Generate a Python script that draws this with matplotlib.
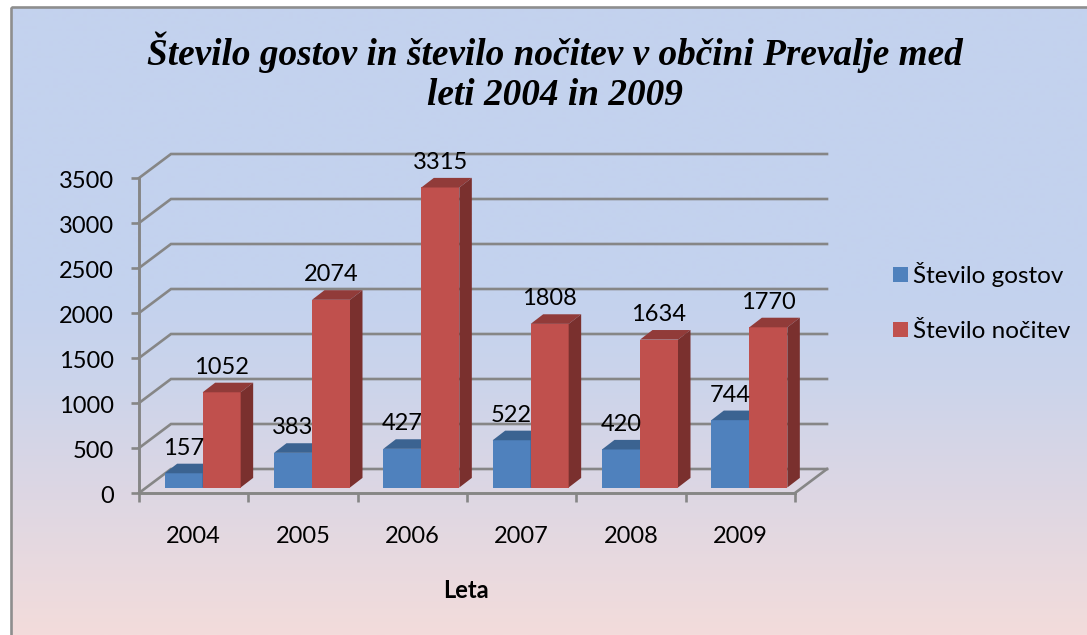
import matplotlib
matplotlib.use("Agg")
import matplotlib.pyplot as plt
import numpy as np
from matplotlib.patches import Patch, Rectangle
from matplotlib.collections import PolyCollection
from matplotlib.transforms import Affine2D

W, H = 1087, 635
years = ["2004", "2005", "2006", "2007", "2008", "2009"]
gostov = [157, 383, 427, 522, 420, 744]
nocitev = [1052, 2074, 3315, 1808, 1634, 1770]
yticks = [0, 500, 1000, 1500, 2000, 2500, 3000, 3500]
title = "Število gostov in število nočitev v občini Prevalje med\nleti 2004 in 2009"
names = ["Število gostov", "Število nočitev"]
xlabel = "Leta"

SANS = "Lato"
SERIF = "Liberation Serif"
GRID = "#868686"
LW = 1.9
NUM = 17

def rect(l, t, r, b):
    return [l / W, 1 - b / H, (r - l) / W, (b - t) / H]

fig = plt.figure(figsize=(W / 100, H / 100), dpi=100, facecolor="white")

# background panel with vertical gradient
bg = fig.add_axes([0, 0, 1, 1], zorder=0)
bg.set_xlim(0, W); bg.set_ylim(H, 0); bg.axis("off")
stops_y = np.array([8, 300, 380, 500, 635]) / 1.0
stops_c = np.array([[195, 210, 238], [196, 210, 238], [203, 212, 235], [222, 215, 227], [243, 220, 219]]) / 255
ys = np.arange(8, 636)
grad = np.stack([np.interp(ys, stops_y, stops_c[:, k]) for k in range(3)], axis=1)[:, None, :]
bg.imshow(grad, extent=(12, W, H, 8), aspect="auto", interpolation="bilinear", zorder=1)
bg.set_xlim(0, W); bg.set_ylim(H, 0)
bg.add_patch(Rectangle((11, 7), W + 20, H + 20, fill=False, ec="#8e8e8e", lw=1.9, zorder=2))

# axes frame
ax = fig.add_axes(rect(139, 178, 795, 493), zorder=1)
ax.patch.set_alpha(0)
ax.set_xlim(0, 6); ax.set_ylim(0, 3500)
sx = 656 / 6; sy = 315 / 3500
wall_dx = 32 / sx; wall_dy = 24 / sy
for v in yticks:
    ax.plot([0, wall_dx, 6 + wall_dx], [v, v + wall_dy, v + wall_dy], color=GRID, lw=LW, clip_on=False, zorder=1,
            solid_joinstyle="miter")
ax.plot([6, 6 + wall_dx], [0, wall_dy], color=GRID, lw=LW, clip_on=False, zorder=1)
for s in ["top", "right"]:
    ax.spines[s].set_visible(False)
for s in ["left", "bottom"]:
    ax.spines[s].set_color(GRID); ax.spines[s].set_linewidth(LW + .2); ax.spines[s].set_zorder(2)
ax.set_yticks(yticks)
ax.set_xticks(np.arange(0, 7))
ax.set_xticklabels([])
ax.set_xticks(np.arange(len(years)) + .5, minor=True)
ax.set_xticklabels(years, minor=True)
ax.tick_params(axis="x", which="major", length=6.5, width=LW, color=GRID)
ax.tick_params(axis="x", which="minor", length=0, pad=24, labelsize=NUM, labelfontfamily=SANS, labelcolor="black")
ax.tick_params(axis="y", which="major", length=6, width=LW, color=GRID, pad=12, labelsize=NUM, labelfontfamily=SANS)
for lab in ax.get_yticklabels():
    lab.set_transform(lab.get_transform() + Affine2D().translate(0, -1.2))
fig.text(466 / W, 1 - 590 / H, xlabel, ha="center", va="center", fontsize=17, fontweight="bold", family=SANS)

# bars, on an overlay placed at the mid depth of the floor
bx = fig.add_axes(rect(148, 487.5 - 3500 * .0905, 148 + 656, 487.5), zorder=2)
bx.patch.set_alpha(0); bx.axis("off")
bx.set_xlim(0, 6); bx.set_ylim(0, 3500)
bw = 38 / sx
ddx = 12.5 / sx; ddy = 9.6 / .0905
series = [(gostov, -1, "#4F81BD", "#3B6391", "#2F5078"), (nocitev, 0, "#C0504D", "#913B39", "#7A302E")]
x0 = np.arange(len(years)) + .5
for vals, off, cf, ct, cs in series:
    lefts = x0 + off * bw
    bx.bar(lefts, vals, width=bw, align="edge", color=cf, zorder=3 + off)
    tops = [[(l, v), (l + ddx, v + ddy), (l + bw + ddx, v + ddy), (l + bw, v)] for l, v in zip(lefts, vals)]
    sides = [[(l + bw, 0), (l + bw + ddx, ddy), (l + bw + ddx, v + ddy), (l + bw, v)] for l, v in zip(lefts, vals)]
    bx.add_collection(PolyCollection(tops, facecolors=ct, edgecolors="none", zorder=3 + off, clip_on=False))
    bx.add_collection(PolyCollection(sides, facecolors=cs, edgecolors="none", zorder=3 + off, clip_on=False))
    for l, v in zip(lefts, vals):
        bx.annotate(str(v), (l + bw / 2, v), xytext=(0, 25), textcoords="offset pixels", ha="center", va="center",
                    fontsize=NUM, family=SANS, color="black", zorder=10, annotation_clip=False)

# title
fig.text(555 / W, 1 - 72 / H, title, ha="center", va="center", fontsize=26.85, family=SERIF, fontweight="bold",
         fontstyle="italic", color="black", linespacing=1.2, zorder=5)

# legend
hs = [Patch(color="#4F81BD", lw=0), Patch(color="#C0504D", lw=0)]
fs = 17.5
leg = fig.legend(hs, names, loc="upper left", bbox_to_anchor=(893 / W, 1 - 262 / H), frameon=False,
                 prop={"family": SANS, "size": fs}, handlelength=10.8 / fs, handleheight=10.8 / fs,
                 handletextpad=.22, labelspacing=1.4, borderpad=0, borderaxespad=0)
fig.savefig("out.png", dpi=100)
